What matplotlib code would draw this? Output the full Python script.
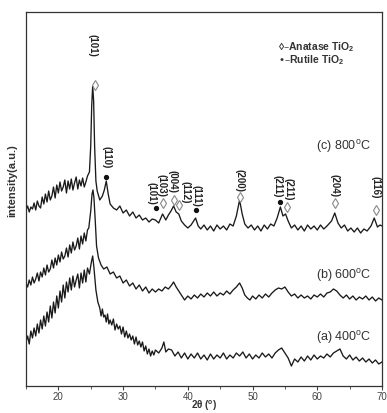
import matplotlib
matplotlib.use("Agg")
import matplotlib.pyplot as plt

plt.rcParams['font.family'] = ['Liberation Sans', 'DejaVu Sans']
plt.rcParams['mathtext.default'] = 'regular'

# ---- data (intensity in arbitrary units, offset curves) ----
x_left = [15, 15.25, 15.5, 15.75, 16, 16.25, 16.5, 16.75, 17, 17.25, 17.5, 17.75, 18, 18.25, 18.5, 18.75,
          19, 19.25, 19.5, 19.75, 20, 20.25, 20.5, 20.75, 21, 21.25, 21.5, 21.75, 22, 22.25, 22.5, 22.75,
          23, 23.25, 23.5, 23.75, 24, 24.25, 24.5]

c_left = [176, 180, 174, 179, 177, 183, 176, 185, 180, 178, 189, 182, 192, 184, 195, 186, 190, 199, 188, 201,
          193, 204, 195, 199, 206, 193, 205, 197, 207, 196, 203, 209, 197, 206, 200, 208, 199, 204, 210]
c_x_rest = [24.8, 25.0, 25.15, 25.3, 25.45, 25.6, 25.8, 26.0, 26.4, 26.8, 27.1, 27.4, 27.7, 28.0, 28.5, 29, 29.5,
            30, 30.5, 31, 31.5, 32, 32.5, 33, 33.5, 34, 34.5, 35, 35.5, 36.1, 36.6, 37.0, 37.4, 37.8, 38.2, 38.6,
            39.0, 39.5, 40, 40.5, 41.2, 41.6, 42, 42.5, 43, 43.5, 44, 44.5, 45, 45.5, 46, 46.5, 47, 47.5, 48.0,
            48.4, 48.8, 49.3, 49.8, 50.3, 50.8, 51.3, 51.8, 52.3, 52.8, 53.3, 53.8, 54.3, 54.7, 55.1, 55.5, 56,
            56.5, 57, 57.5, 58, 58.5, 59, 59.5, 60, 60.5, 61, 61.5, 62.2, 62.7, 63.2, 63.7, 64.2, 64.7, 65.2,
            65.7, 66.2, 66.7, 67.2, 67.7, 68.3, 68.8, 69.3, 69.7, 70]
c_y_rest = [214, 240, 280, 300, 285, 240, 205, 195, 186, 190, 196, 205, 192, 182, 178, 176, 180,
            173, 176, 170, 174, 168, 171, 166, 168, 164, 167, 166, 163, 172, 166, 171, 175, 180, 174, 172,
            165, 161, 158, 161, 168, 160, 157, 161, 156, 160, 155, 161, 157, 160, 156, 162, 160, 170, 186,
            172, 162, 158, 161, 156, 160, 155, 161, 157, 162, 160, 168, 179, 170, 172, 165, 158,
            161, 156, 160, 155, 161, 157, 160, 156, 161, 157, 160, 165, 173, 163, 158, 161, 155, 158,
            154, 158, 153, 157, 155, 160, 168, 159, 161, 160]

b_left = [103, 99, 106, 101, 109, 103, 107, 113, 105, 114, 109, 118, 111, 121, 114, 117, 126, 118, 128, 121,
          131, 124, 134, 127, 130, 138, 129, 141, 133, 144, 136, 140, 148, 137, 150, 142, 153, 145, 156]
b_x_rest = [24.7, 25.0, 25.2, 25.35, 25.5, 25.7, 25.9, 26.2, 26.6, 27, 27.5, 28, 28.5, 29, 29.5, 30, 30.5, 31,
            31.5, 32, 32.5, 33, 33.5, 34, 34.5, 35, 35.5, 36, 36.5, 37, 37.5, 37.8, 38.2, 38.6, 39, 39.5, 40,
            40.5, 41, 41.5, 42, 42.5, 43, 43.5, 44, 44.5, 45, 45.5, 46, 46.5, 47, 47.5, 48, 48.4, 48.8, 49.2,
            49.6, 50, 50.5, 51, 51.5, 52, 52.5, 53, 53.5, 54, 54.5, 55, 55.5, 56, 56.5, 57, 57.5, 58, 58.5, 59,
            59.5, 60, 60.5, 61, 61.5, 62, 62.5, 63, 63.5, 64, 64.5, 65, 65.5, 66, 66.5, 67, 67.5, 68, 68.5, 69,
            69.5, 70]
b_y_rest = [158, 175, 192, 196, 188, 165, 140, 128, 121, 117, 119, 112, 114, 108, 110, 103, 106, 100,
            103, 97, 101, 95, 99, 93, 97, 94, 97, 95, 99, 97, 101, 104, 99, 95, 91, 86, 90,
            87, 91, 88, 92, 89, 93, 90, 94, 90, 93, 91, 95, 92, 96, 99, 103, 98, 91, 88,
            86, 90, 87, 91, 88, 92, 89, 93, 96, 98, 97, 99, 94, 90, 92, 88, 91, 88, 90, 87,
            91, 89, 92, 89, 93, 94, 97, 95, 91, 88, 91, 87, 90, 86, 89, 87, 90, 86, 89, 85,
            88, 86]

a_left = [44, 50, 42, 55, 48, 58, 50, 62, 53, 66, 57, 70, 60, 74, 64, 80, 68, 84, 73, 90,
          78, 95, 84, 101, 88, 104, 94, 108, 96, 110, 99, 106, 112, 98, 113, 103, 116, 104, 118]
a_x_rest = [24.8, 25.1, 25.3, 25.5, 25.8, 26.1, 26.4, 26.6, 26.8, 27.0, 27.2, 27.4, 27.6, 27.8, 28, 28.25,
            28.5, 28.75, 29, 29.25, 29.5, 29.75, 30, 30.25, 30.5, 30.75, 31, 31.25, 31.5, 31.75, 32, 32.25,
            32.5, 32.75, 33, 33.25, 33.5, 33.75, 34, 34.25, 34.5, 34.75, 35, 35.5, 36, 36.3, 36.6, 37,
            37.5, 38, 38.5, 39, 39.5, 40, 40.5, 41, 41.5, 42, 42.5, 43, 43.5, 44, 44.5, 45, 45.5, 46, 46.5,
            47, 47.5, 48, 48.5, 49, 49.5, 50, 50.5, 51, 51.5, 52, 52.5, 53, 53.5, 54, 54.5, 55, 55.5, 56,
            56.5, 57, 57.5, 58, 58.5, 59, 59.5, 60, 60.5, 61, 61.5, 62, 62.5, 63, 63.5, 64, 64.5, 65, 65.5,
            66, 66.5, 67, 67.5, 68, 68.5, 69, 69.5, 70]
a_y_rest = [112, 124, 130, 118, 96, 84, 78, 70, 77, 69, 71, 64, 72, 62, 66, 61,
            67, 56, 62, 57, 60, 52, 59, 49, 55, 48, 52, 46, 50, 42, 49, 41,
            45, 39, 44, 35, 40, 32, 37, 30, 35, 31, 36, 33, 38, 44, 34, 37,
            36, 30, 34, 28, 33, 27, 32, 28, 33, 27, 31, 26, 32, 27, 31, 28, 33, 27, 31,
            28, 33, 30, 34, 28, 32, 27, 31, 28, 33, 29, 32, 28, 33, 36, 38, 33, 28, 20,
            27, 24, 29, 25, 30, 26, 31, 27, 30, 28, 32, 29, 33, 35, 37, 30, 27, 31, 26,
            29, 25, 28, 24, 27, 23, 26, 22, 24]

# peak annotations
peak_labels = ["(101)", "(110)", "(101)", "(103)", "(004)", "(112)", "(111)", "(200)", "(211)", "(211)", "(204)", "(116)"]
peak_phase = ["A", "R", "R", "A", "A", "A", "R", "A", "R", "A", "A", "A"]
mark_x = [25.6, 27.4, 35.1, 36.1, 37.9, 38.6, 41.2, 48.0, 54.2, 55.3, 62.7, 69.0]
mark_y = [301, 209, 178, 183, 186, 181, 176, 189, 184, 179, 183, 176]
text_x = [25.2, 27.5, 34.4, 36.0, 37.7, 39.6, 41.4, 48.0, 53.9, 55.6, 62.7, 69.0]
text_y = [329, 218, 181, 189, 193, 183, 179, 194, 189, 186, 189, 188]

sample_labels = ["(c) 800$^{o}$C", "(b) 600$^{o}$C", "(a) 400$^{o}$C"]
sample_y = [239, 111, 48]

curves = [
    (x_left + c_x_rest, c_left + c_y_rest),
    (x_left + b_x_rest, b_left + b_y_rest),
    (x_left + a_x_rest, a_left + a_y_rest),
]

fig = plt.figure(figsize=(3.87, 4.13), dpi=100)
ax = fig.add_axes([26/387, 27/413, 356/387, 374/413])

for xs, ys in curves:
    n = min(len(xs), len(ys))
    ax.plot(xs[:n], ys[:n], color='#1a1a1a', lw=0.95)

for lab, ph, mx, my, tx, ty in zip(peak_labels, peak_phase, mark_x, mark_y, text_x, text_y):
    if ph == "A":
        ax.plot(mx, my, marker='d', ms=5, mfc='white', mec='#888888', mew=0.8, ls='none')
    else:
        ax.plot(mx, my, marker='o', ms=2.8, color='#111111', ls='none')
    ax.text(tx, ty, lab, rotation=-90, ha='center', va='bottom', fontsize=7, fontweight='bold', color='#222222')

for lab, sy in zip(sample_labels, sample_y):
    ax.text(68.3, sy, lab, ha='right', va='center', fontsize=9, color='#333333')

ax.text(53.9, 339, "◊–Anatase TiO$_2$", ha='left', va='center', fontsize=7.5, fontweight='bold', color='#333333')
ax.text(53.9, 326, "•–Rutile TiO$_2$", ha='left', va='center', fontsize=7.5, fontweight='bold', color='#333333')

ax.set_xlim(15, 70)
ax.set_ylim(0, 374)
ax.set_yticks([])
ax.set_xticks([20, 30, 40, 50, 60, 70])
ax.set_xticks([15, 25, 35, 45, 55, 65], minor=True)
ax.tick_params(axis='x', which='major', direction='out', length=3, width=0.8, labelsize=7, colors='#444444', pad=1.5)
ax.tick_params(axis='x', which='minor', direction='out', length=2, width=0.6, colors='#444444')
for s in ax.spines.values():
    s.set_color('#333333')
    s.set_linewidth(0.9)

ax.set_xlabel("2θ ($^{o}$)", fontsize=7, fontweight='bold', color='#333333')
ax.xaxis.set_label_coords(0.5, -0.033)
ax.set_ylabel("intensity(a.u.)", fontsize=8, fontweight='bold', color='#333333')
ax.yaxis.set_label_coords(-0.025, 0.55)

fig.savefig("out.png", dpi=100)
